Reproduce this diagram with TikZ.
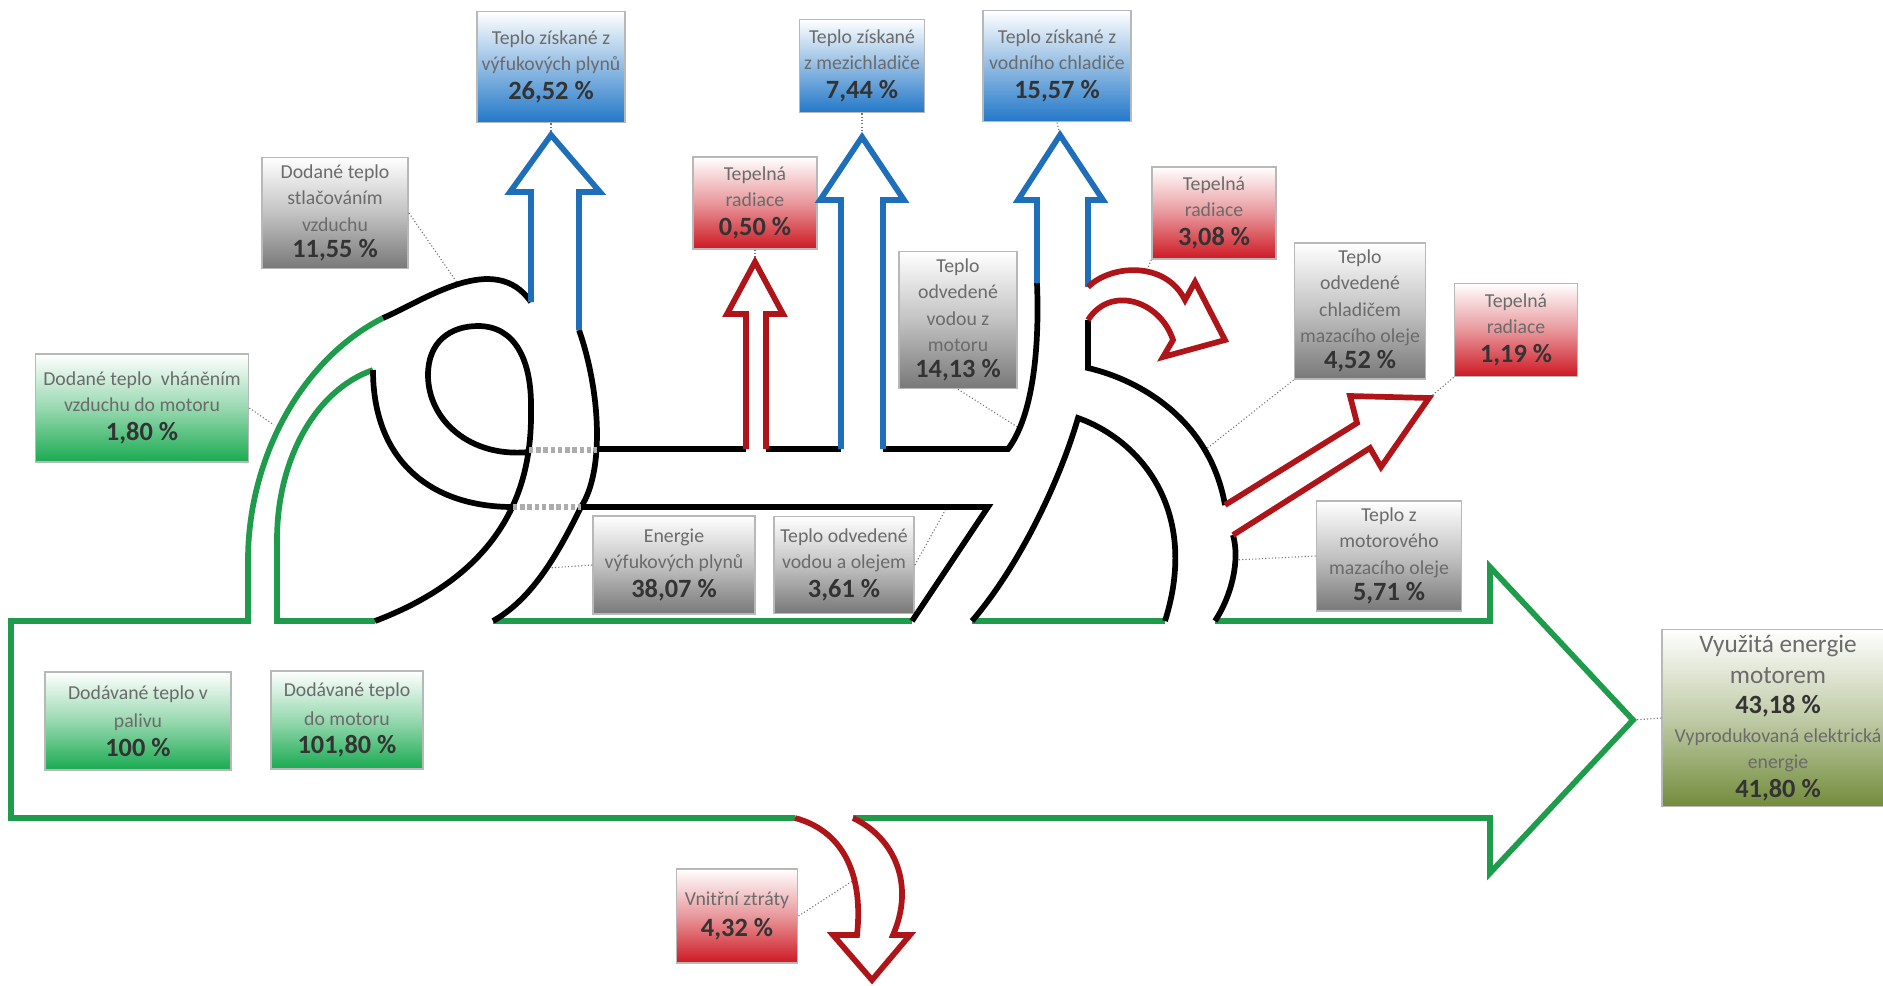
\documentclass[tikz,border=0pt]{standalone}
\usepackage{fontspec}
\setmainfont{Carlito}
\usetikzlibrary{calc}

\definecolor{flowgreen}{RGB}{30,155,75}
\definecolor{flowblue}{RGB}{30,110,185}
\definecolor{flowred}{RGB}{175,20,25}
\definecolor{boxgreen}{RGB}{25,170,80}
\definecolor{boxblue}{RGB}{35,120,200}
\definecolor{boxred}{RGB}{205,25,35}
\definecolor{boxgray}{RGB}{120,120,120}
\definecolor{boxolive}{RGB}{115,140,60}

\newcommand{\pct}[1]{{\fontsize{12}{14}\selectfont\bfseries\color{black!80}#1}}
\newcommand{\bigtxt}[1]{{\fontsize{11.5}{13.6}\selectfont #1}}

\tikzset{
  flowline/.style={line width=2.6pt, line join=miter},
  bridge/.style={line width=2.6pt, gray!65, dash pattern=on 2pt off 1.3pt},
  leader/.style={densely dotted, black!55, line width=0.5pt},
  box/.style={rectangle, draw=black!28, line width=0.8pt, align=center,
    text=black!58, inner sep=1pt, font=\fontsize{9}{12}\selectfont},
  greenbox/.style={box, top color=white, bottom color=boxgreen, middle color=boxgreen!45},
  bluebox/.style={box, top color=white, bottom color=boxblue, middle color=boxblue!50},
  redbox/.style={box, top color=white, bottom color=boxred, middle color=boxred!45},
  graybox/.style={box, top color=white, bottom color=boxgray, middle color=boxgray!45},
  olivebox/.style={box, top color=white, bottom color=boxolive, middle color=boxolive!45}
}

\begin{document}
\begin{tikzpicture}[x=0.016cm,y=-0.016cm]
  \useasboundingbox (0,0) rectangle (1883,985);

  % labels
  \node[bluebox, minimum width=2.37cm, minimum height=1.78cm] (vyfuk) at (551,67)
    {Teplo získané z\\výfukových plynů\\[1pt]\pct{26,52~\%}};
  \node[bluebox, minimum width=2.00cm, minimum height=1.49cm] (mezi) at (862,66)
    {Teplo získané\\z mezichladiče\\[1pt]\pct{7,44~\%}};
  \node[bluebox, minimum width=2.38cm, minimum height=1.78cm] (vodni) at (1057,66)
    {Teplo získané z\\vodního chladiče\\[1pt]\pct{15,57~\%}};
  \node[redbox, minimum width=1.98cm, minimum height=1.47cm] (rad1) at (755,203)
    {Tepelná\\radiace\\[1pt]\pct{0,50~\%}};
  \node[graybox, minimum width=2.34cm, minimum height=1.78cm] (stlac) at (335,213)
    {Dodané teplo\\stlačováním\\vzduchu\\\pct{11,55~\%}};
  \node[greenbox, minimum width=3.41cm, minimum height=1.73cm] (vhan) at (142,408)
    {Dodané teplo\ \ vháněním\\vzduchu do motoru\\[1pt]\pct{1,80~\%}};
  \node[graybox, minimum width=1.90cm, minimum height=2.19cm] (odvod) at (958,320)
    {Teplo\\odvedené\\vodou z\\motoru\\\pct{14,13~\%}};
  \node[redbox, minimum width=1.98cm, minimum height=1.47cm] (rad2) at (1214,213)
    {Tepelná\\radiace\\[1pt]\pct{3,08~\%}};
  \node[graybox, minimum width=2.10cm, minimum height=2.18cm] (chlad) at (1360,311)
    {Teplo\\odvedené\\chladičem\\mazacího oleje\\\pct{4,52~\%}};
  \node[redbox, minimum width=1.97cm, minimum height=1.49cm] (rad3) at (1516,330)
    {Tepelná\\radiace\\[1pt]\pct{1,19~\%}};
  \node[graybox, minimum width=2.32cm, minimum height=1.76cm] (mazoil) at (1389,556)
    {Teplo z\\motorového\\mazacího oleje\\\pct{5,71~\%}};
  \node[olivebox, minimum width=3.71cm, minimum height=2.83cm] (vyuz) at (1778,718)
    {\bigtxt{Využitá energie}\\[2pt]\bigtxt{motorem}\\[2pt]\pct{43,18~\%}\\[1pt]Vyprodukovaná elektrická\\energie\\[1pt]\pct{41,80~\%}};
  \node[graybox, minimum width=2.59cm, minimum height=1.57cm] (exhaust) at (674,565)
    {Energie\\výfukových plynů\\[1pt]\pct{38,07~\%}};
  \node[graybox, minimum width=2.24cm, minimum height=1.55cm] (oil) at (844,565)
    {Teplo odvedené\\vodou a olejem\\[1pt]\pct{3,61~\%}};
  \node[greenbox, minimum width=2.98cm, minimum height=1.57cm] (palivo) at (138,721)
    {Dodávané teplo v\\[1pt]palivu\\[1pt]\pct{100~\%}};
  \node[greenbox, minimum width=2.43cm, minimum height=1.57cm] (motor) at (347,720)
    {Dodávané teplo\\[1pt]do motoru\\[1pt]\pct{101,80~\%}};
  \node[redbox, minimum width=1.94cm, minimum height=1.50cm] (ztraty) at (737,916)
    {Vnitřní ztráty\\[2pt]\pct{4,32~\%}};

  % points the labels refer to
  \coordinate (pVyfuk) at (551,135);
  \coordinate (pMezi) at (862,137);
  \coordinate (pVodni) at (1060,135);
  \coordinate (pRad1) at (755,262);
  \coordinate (pStlac) at (458,284);
  \coordinate (pVhan) at (274,425);
  \coordinate (pOdvod) at (1019,428);
  \coordinate (pRad2) at (1147,270);
  \coordinate (pChlad) at (1205,450);
  \coordinate (pRad3) at (1429,398);
  \coordinate (pMazoil) at (1235,560);
  \coordinate (pVyuz) at (1633,720);
  \coordinate (pExhaust) at (548,568);
  \coordinate (pOil) at (947,507);
  \coordinate (pZtraty) at (857,878);

  \draw[leader] (vyfuk.south) -- (pVyfuk);
  \draw[leader] (mezi.south) -- (pMezi);
  \draw[leader] (vodni.south) -- (pVodni);
  \draw[leader] (rad1.south) -- (pRad1);
  \draw[leader] (stlac.east) -- (pStlac);
  \draw[leader] (vhan.east) -- (pVhan);
  \draw[leader] (odvod.south) -- (pOdvod);
  \draw[leader] (rad2.south west) -- (pRad2);
  \draw[leader] (chlad.south west) -- (pChlad);
  \draw[leader] (rad3.south west) -- (pRad3);
  \draw[leader] (mazoil.west) -- (pMazoil);
  \draw[leader] (vyuz.west) -- (pVyuz);
  \draw[leader] (exhaust.west) -- (pExhaust);
  \draw[leader] (oil.east) -- (pOil);
  \draw[leader] (ztraty.east) -- (pZtraty);

  % green input and output
  \draw[flowline, flowgreen] (383,318) .. controls (300,360) and (248,460) .. (248,560)
    -- (248,621) -- (11,621) -- (11,818) -- (795,818);
  \draw[flowline, flowgreen] (375,621) -- (277,621) -- (277,540)
    .. controls (277,460) and (315,390) .. (373,370);
  \draw[flowline, flowgreen] (493,621) -- (912,621);
  \draw[flowline, flowgreen] (972,621) -- (1165,621);
  \draw[flowline, flowgreen] (1215,621) -- (1490,621) -- (1490,567) -- (1633,720)
    -- (1490,873) -- (1490,818) -- (853,818);

  % black bands
  \draw[flowline] (383,318) .. controls (425,300) and (495,250) .. (531,302);
  \draw[flowline] (579,330) .. controls (600,390) and (605,470) .. (581,507)
    .. controls (555,560) and (530,600) .. (493,621);
  \draw[flowline] (529,452) .. controls (470,458) and (428,420) .. (428,375)
    .. controls (428,342) and (450,326) .. (478,326)
    .. controls (515,326) and (532,360) .. (531,410)
    .. controls (532,480) and (510,570) .. (375,621);
  \draw[flowline] (373,370) .. controls (373,460) and (430,507) .. (513,507);
  \draw[bridge] (529,450) -- (597,450);
  \draw[bridge] (513,507) -- (581,507);
  \draw[flowline] (597,449) -- (746,449);
  \draw[flowline] (766,449) -- (841,449);
  \draw[flowline] (883,449) -- (1008,449) .. controls (1030,420) and (1040,360) .. (1037,283);
  \draw[flowline] (581,507) -- (988,507) -- (912,621);
  \draw[flowline] (1088,320) -- (1088,368) .. controls (1140,380) and (1210,420) .. (1225,505);
  \draw[flowline] (1233,535) .. controls (1240,560) and (1232,595) .. (1215,621);
  \draw[flowline] (972,621) .. controls (1020,565) and (1060,480) .. (1078,418)
    .. controls (1140,440) and (1200,510) .. (1165,621);

  % blue outputs
  \draw[flowline, flowblue] (531,302) -- (531,192) -- (510,192) -- (551,135)
    -- (600,192) -- (579,192) -- (579,330);
  \draw[flowline, flowblue] (841,449) -- (841,200) -- (820,200) -- (862,137)
    -- (904,200) -- (883,200) -- (883,449);
  \draw[flowline, flowblue] (1037,283) -- (1037,200) -- (1018,200) -- (1060,135)
    -- (1103,200) -- (1088,200) -- (1088,287);

  % red losses
  \draw[flowline, flowred] (746,449) -- (746,314) -- (727,314) -- (755,262)
    -- (783,314) -- (766,314) -- (766,449);
  \draw[flowline, flowred] (1088,287) .. controls (1110,265) and (1165,260) .. (1185,300)
    -- (1195,282) -- (1225,340) -- (1163,357) -- (1173,340)
    .. controls (1160,300) and (1110,285) .. (1088,320);
  \draw[flowline, flowred] (1225,505) -- (1357,423) -- (1350,396) -- (1429,398)
    -- (1381,467) -- (1370,448) -- (1233,535);
  \draw[flowline, flowred] (795,818) .. controls (840,830) and (864,870) .. (857,935)
    -- (833,935) -- (872,980) -- (910,935) -- (893,935)
    .. controls (915,885) and (895,838) .. (853,818);
\end{tikzpicture}
\end{document}
